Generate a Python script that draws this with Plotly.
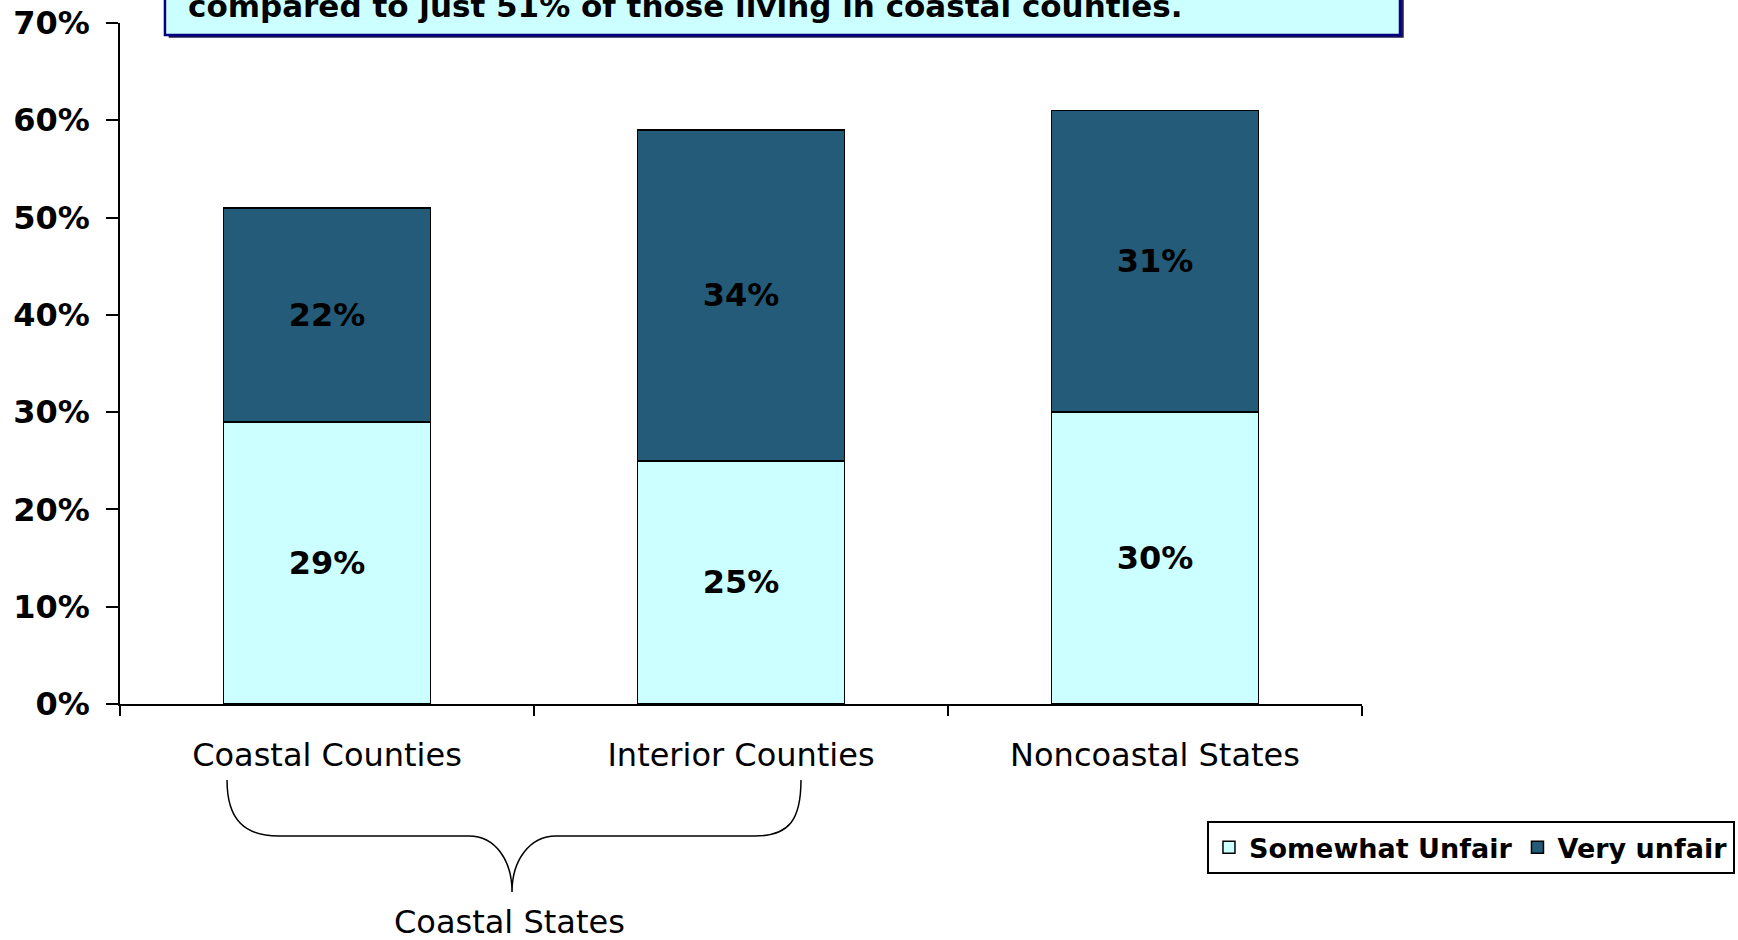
import plotly.graph_objects as go

categories = ["Coastal Counties", "Interior Counties", "Noncoastal States"]
somewhat_unfair = [29, 25, 30]
very_unfair = [22, 34, 31]
y_ticks = [0, 10, 20, 30, 40, 50, 60, 70]
y_tick_labels = [f"{v}%" for v in y_ticks]
group_label = "Coastal States"
box_text = "compared to just 51% of those living in coastal counties."

FONT = "DejaVu Sans"
LIGHT = "#CCFFFF"
DARK = "#235B79"

fig = go.Figure()
fig.add_trace(go.Bar(
    x=categories, y=somewhat_unfair, name="Somewhat Unfair",
    marker=dict(color=LIGHT, line=dict(color="black", width=1.5)),
    text=[f"{v}%" for v in somewhat_unfair], textposition="inside",
    insidetextanchor="middle",
    textfont=dict(family=FONT, size=32, color="black", weight="bold"),
    width=0.5,
))
fig.add_trace(go.Bar(
    x=categories, y=very_unfair, name="Very unfair",
    marker=dict(color=DARK, line=dict(color="black", width=1.5)),
    text=[f"{v}%" for v in very_unfair], textposition="inside",
    insidetextanchor="middle",
    textfont=dict(family=FONT, size=32, color="black", weight="bold"),
    width=0.5,
))

fig.update_layout(
    barmode="stack",
    width=1738, height=940,
    margin=dict(l=120, r=376, t=23, b=236, autoexpand=False),
    paper_bgcolor="white", plot_bgcolor="white",
    font=dict(family=FONT, color="black"),
    showlegend=True,
    legend=dict(
        orientation="h", x=1.3003, xanchor="right", y=-0.25, yanchor="bottom",
        bordercolor="black", borderwidth=2, bgcolor="white",
        font=dict(family=FONT, size=27, color="black", weight="bold"),
        itemwidth=30, traceorder="normal",
    ),
    xaxis=dict(
        type="category", range=[-0.5, 2.5], automargin=False,
        showline=True, linecolor="black", linewidth=1.5,
        ticks="outside", tickson="boundaries", ticklen=10, tickcolor="black",
        tickwidth=1.5, ticklabelstandoff=22,
        tickfont=dict(family=FONT, size=32, color="black"),
        showgrid=False, zeroline=False,
    ),
    yaxis=dict(
        range=[0, 70], tickmode="array", tickvals=y_ticks, ticktext=y_tick_labels,
        automargin=False,
        showline=True, linecolor="black", linewidth=1.5,
        ticks="outside", ticklen=12, tickcolor="black", tickwidth=1.5,
        ticklabelstandoff=10,
        tickfont=dict(family=FONT, size=32, color="black", weight="bold"),
        showgrid=False, zeroline=False,
    ),
)

# text box (shadow + box), partially above the page
fig.add_shape(type="rect", xref="paper", yref="paper",
              x0=0.0362 + 0.003, x1=1.0306 + 0.003, y0=0.9824 - 0.004, y1=1.3,
              fillcolor="#1a1a50", line=dict(width=0), layer="above")
fig.add_shape(type="rect", xref="paper", yref="paper",
              x0=0.0362, x1=1.0306, y0=0.9824, y1=1.3,
              fillcolor=LIGHT, line=dict(color="#000080", width=2.5), layer="above")
fig.add_annotation(xref="paper", yref="paper", x=0.0531, y=1.025,
                   xanchor="left", yanchor="middle", showarrow=False,
                   text=box_text,
                   font=dict(family=FONT, size=31, color="black", weight="bold"))

# curly brace grouping the first two categories
def py(ypx):
    return (704 - ypx) / 681

brace = (
    f"M -0.2415,{py(780)} "
    f"C -0.2415,{py(820)} -0.199,{py(836)} -0.116,{py(836)} "
    f"L 0.343,{py(836)} "
    f"C 0.406,{py(836)} 0.4469,{py(860)} 0.4469,{py(892)} "
    f"C 0.4469,{py(860)} 0.49,{py(836)} 0.5531,{py(836)} "
    f"L 1.0338,{py(836)} "
    f"C 1.116,{py(836)} 1.1449,{py(820)} 1.1449,{py(780)}"
)
fig.add_shape(type="path", xref="x", yref="paper", path=brace,
              line=dict(color="black", width=1.5))
fig.add_annotation(xref="x", yref="paper", x=0.442, y=py(922),
                   xanchor="center", yanchor="middle", showarrow=False,
                   text=group_label,
                   font=dict(family=FONT, size=32, color="black"))

fig.write_html("out.html")
